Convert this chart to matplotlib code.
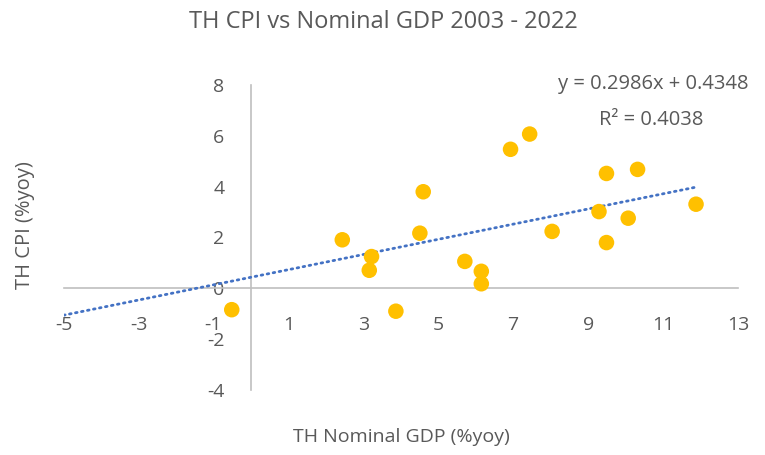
import matplotlib
matplotlib.use("Agg")
import matplotlib.pyplot as plt
import numpy as np

plt.rcParams['font.family'] = ['Open Sans', 'DejaVu Sans']

# Data
gdp = [-0.51, 2.44, 3.22, 3.16, 3.87, 4.60, 4.51, 5.71, 6.15, 6.15,
       6.93, 7.44, 8.04, 9.49, 10.32, 9.29, 10.07, 9.49, 11.88]
cpi = [-0.84, 1.91, 1.25, 0.71, -0.90, 3.80, 2.17, 1.06, 0.67, 0.18,
       5.47, 6.07, 2.24, 4.52, 4.68, 3.02, 2.76, 1.80, 3.31]
slope, intercept, r2 = 0.2986, 0.4348, 0.4038
xticks = [-5, -3, -1, 1, 3, 5, 7, 9, 11, 13]
yticks = [-4, -2, 0, 2, 4, 6, 8]

W, H = 765, 455
fig = plt.figure(figsize=(W / 100, H / 100), dpi=100)
L, R, T, B = 63.5, 738, 85, 390
ax = fig.add_axes([L / W, 1 - B / H, (R - L) / W, (B - T) / H])
ax.set_xlim(-5, 13)
ax.set_ylim(-4, 8)

grey = '#595959'
axis_col = '#BFBFBF'

for s in ['top', 'right']:
    ax.spines[s].set_visible(False)
ax.spines['left'].set_position(('data', 0))
ax.spines['bottom'].set_position(('data', 0))
for s in ['left', 'bottom']:
    ax.spines[s].set_color(axis_col)
    ax.spines[s].set_linewidth(1.2)

ax.set_xticks(xticks)
ax.set_yticks(yticks)
ax.set_xticklabels([str(v) for v in xticks])
ax.set_yticklabels([str(v) for v in yticks])
ax.tick_params(axis='x', length=0, pad=20, labelsize=14, labelcolor=grey)
ax.tick_params(axis='y', length=0, pad=19, labelsize=14, labelcolor=grey)

# trendline
xt = np.linspace(-5, max(gdp), 100)
ax.plot(xt, slope * xt + intercept, color='#4472C4', lw=2,
        linestyle=(0, (0.6, 1.6)), dash_capstyle='round', zorder=3)

ax.scatter(gdp, cpi, s=125, color='#FFC000', edgecolors='none', zorder=4)

fig.text(383 / W, 1 - 22 / H, 'TH CPI vs Nominal GDP 2003 - 2022',
         ha='center', va='center', fontsize=17, color=grey)
fig.text(748 / W, 1 - 84 / H, f'y = {slope}x + {intercept}',
         ha='right', va='center', fontsize=14.5, color=grey)
fig.text(651 / W, 1 - 120 / H, f'R² = {r2}',
         ha='center', va='center', fontsize=14.5, color=grey)
fig.text(401 / W, 1 - 437 / H, 'TH Nominal GDP (%yoy)',
         ha='center', va='center', fontsize=14, color=grey)
fig.text(25 / W, 1 - 225 / H, 'TH CPI (%yoy)', rotation=90,
         ha='center', va='center', fontsize=14.5, color=grey)

fig.savefig('out.png', dpi=100)
